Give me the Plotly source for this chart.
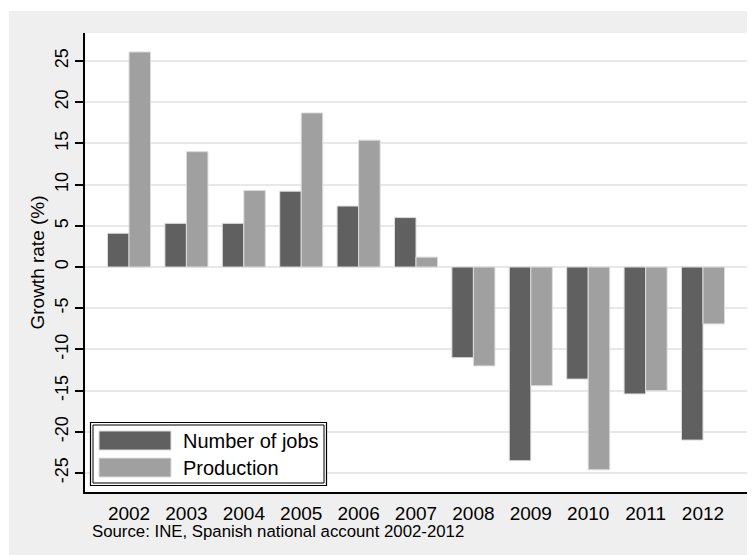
import plotly.graph_objects as go

years = ["2002", "2003", "2004", "2005", "2006", "2007", "2008", "2009", "2010", "2011", "2012"]
jobs = [4.1, 5.3, 5.3, 9.2, 7.4, 6.0, -11.0, -23.5, -13.6, -15.4, -21.0]
production = [26.1, 14.0, 9.3, 18.7, 15.4, 1.2, -12.0, -14.4, -24.6, -15.0, -6.9]
series_names = ["Number of jobs", "Production"]
series_colors = ["#606060", "#a0a0a0"]
y_ticks = [-25, -20, -15, -10, -5, 0, 5, 10, 15, 20, 25]
source_text = "Source: INE, Spanish national account 2002-2012"
y_title = "Growth rate (%)"

OFF = 8  # browser default body margin
W, H = 755 - OFF, 555 - OFF
L, R, T, B = 85 - OFF, 7, 33 - OFF, 63
PW, PH = W - L - R, H - T - B

def px(x):
    return (x - OFF - L) / PW

def py(y):
    return (H - B - (y - OFF)) / PH

FONT = "Liberation Sans, Arial, sans-serif"

fig = go.Figure()
for name, vals, col in zip(series_names, [jobs, production], series_colors):
    fig.add_trace(go.Bar(
        x=years, y=vals, name=name, marker_color=col,
        marker_line_color="#dcdcdc", marker_line_width=1, showlegend=False,
    ))

shapes = [
    dict(type="rect", xref="paper", yref="paper", x0=px(9), x1=px(760), y0=py(560), y1=py(11),
         fillcolor="#efefef", line_width=0, layer="below"),
    dict(type="rect", xref="paper", yref="paper", x0=0, x1=1, y0=0, y1=1,
         fillcolor="white", line_width=0, layer="below"),
    # legend box (double border)
    dict(type="rect", xref="paper", yref="paper", x0=px(90.5), x1=px(326.5), y0=py(485.5), y1=py(422.5),
         fillcolor="white", line=dict(color="black", width=1.2), layer="above"),
    dict(type="rect", xref="paper", yref="paper", x0=px(93), x1=px(324), y0=py(483), y1=py(425),
         fillcolor="rgba(0,0,0,0)", line=dict(color="black", width=1), layer="above"),
]
annotations = []
sw_y = [(431, 450), (458, 477)]
for (name, col), (ya, yb) in zip(zip(series_names, series_colors), sw_y):
    shapes.append(dict(type="rect", xref="paper", yref="paper", x0=px(99), x1=px(171),
                       y0=py(yb), y1=py(ya), fillcolor=col, line=dict(color="#dcdcdc", width=1),
                       layer="above"))
    annotations.append(dict(xref="paper", yref="paper", x=px(181), y=py((ya + yb) / 2),
                            text=name, showarrow=False, xanchor="left", yanchor="middle",
                            font=dict(family=FONT, size=20, color="black")))

annotations.append(dict(xref="paper", yref="paper", x=px(90), y=py(531), text=source_text,
                        showarrow=False, xanchor="left", yanchor="middle",
                        font=dict(family=FONT, size=16.8, color="black")))

fig.update_layout(
    width=W, height=H,
    margin=dict(l=L, r=R, t=T, b=B, autoexpand=False),
    paper_bgcolor="white", plot_bgcolor="white",
    barmode="group", bargap=0.25, bargroupgap=0,
    shapes=shapes, annotations=annotations,
    font=dict(family=FONT, color="black"),
)
fig.update_xaxes(
    type="category", range=[-0.767, 10.784],
    showline=True, linecolor="black", linewidth=1.5,
    showgrid=False, ticks="", tickfont=dict(size=19), ticklabelstandoff=3,
    automargin=False, zeroline=False,
)
fig.update_yaxes(
    range=[-27.3, 28.4], tickvals=y_ticks, ticktext=[str(v) for v in y_ticks],
    tickangle=-90, tickfont=dict(size=18),
    ticks="outside", ticklen=8, tickwidth=1.5, tickcolor="black",
    showline=True, linecolor="black", linewidth=1.5,
    showgrid=True, gridcolor="#e8e8e8", gridwidth=1.5,
    zeroline=False, automargin=False,
    title=dict(text=y_title, font=dict(size=19), standoff=2),
)

fig.write_html("out.html")
